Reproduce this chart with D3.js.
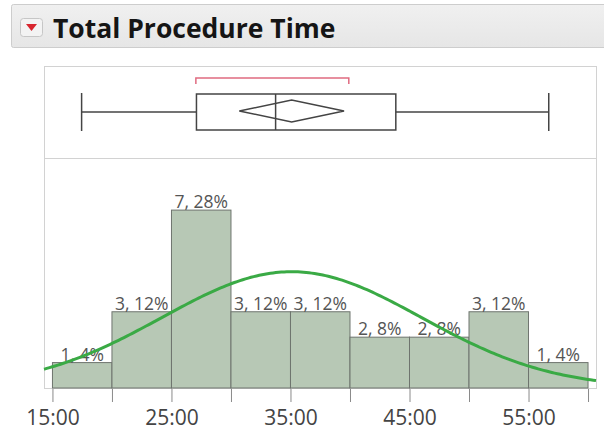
<!DOCTYPE html>
<html>
<head>
<meta charset="utf-8">
<script src="https://cdn.jsdelivr.net/npm/d3@7"></script>
<style>
html,body{margin:0;padding:0;background:#fff;}
svg{display:block;}
</style>
</head>
<body>
<svg id="chart" width="604" height="441"></svg>
<script>
// ---- data (minutes) ----
const title = "Total Procedure Time";
const binStarts = [15, 20, 25, 30, 35, 40, 45, 50, 55];
const binWidth = 5;
const counts = [1, 3, 7, 3, 3, 2, 2, 3, 1];
const percents = [4, 12, 28, 12, 12, 8, 8, 12, 4];
const tickValues = [15, 20, 25, 30, 35, 40, 45, 50, 55, 60];
const labeledTicks = [15, 25, 35, 45, 55];
// box plot summary
const whiskerLow = 17.45, q1 = 27.1, median = 33.75, q3 = 43.85, whiskerHigh = 56.7;
const mean = 35.1, meanCILow = 30.7, meanCIHigh = 39.5;
const shortestHalf = [27.05, 39.9];
// normal fit
const normMean = 35.1, normSD = 10.9;

const svg = d3.select("#chart");

// ---- header ----
const grad = svg.append("defs").append("linearGradient").attr("id","hdr").attr("x1",0).attr("x2",0).attr("y1",0).attr("y2",1);
grad.append("stop").attr("offset","0%").attr("stop-color","#f0f0f0");
grad.append("stop").attr("offset","100%").attr("stop-color","#e6e6e6");
svg.append("rect").attr("x",11.5).attr("y",4.5).attr("width",600).attr("height",43)
  .attr("rx",2).attr("fill","url(#hdr)").attr("stroke","#cdcdcd");
svg.append("rect").attr("x",20.5).attr("y",18.5).attr("width",22).attr("height",18)
  .attr("rx",3).attr("fill","#f3f3f3").attr("stroke","#c6c6c6");
svg.append("path").attr("d","M26,24 L37,24 L31.5,31 Z").attr("fill","#d8262f");
svg.append("text").attr("x",53).attr("y",38).text(title)
  .attr("font-family","'Open Sans', sans-serif").attr("font-weight","bold")
  .attr("font-size",26.5).attr("fill","#151515");

// ---- scales ----
const pLeft = 44, pRight = 596, pTop = 66, pDivider = 158, pBottom = 388;
const x = d3.scaleLinear().domain([14.29, 60.67]).range([pLeft, pRight]);
const y = d3.scaleLinear().domain([0, 9.05]).range([pBottom, pDivider]);

// ---- frame ----
svg.append("rect").attr("x",pLeft+0.5).attr("y",pTop+0.5).attr("width",pRight-pLeft).attr("height",pBottom-pTop)
  .attr("fill","#fff").attr("stroke","#d2d2d2");
svg.append("line").attr("x1",pLeft).attr("x2",pRight).attr("y1",pDivider+0.5).attr("y2",pDivider+0.5)
  .attr("stroke","#d2d2d2");

// ---- box plot ----
const bp = svg.append("g").attr("stroke","#444").attr("stroke-width",1.5).attr("fill","none");
const wy = 112;
bp.append("line").attr("x1",x(whiskerLow)).attr("x2",x(q1)).attr("y1",wy).attr("y2",wy);
bp.append("line").attr("x1",x(q3)).attr("x2",x(whiskerHigh)).attr("y1",wy).attr("y2",wy);
bp.append("line").attr("x1",x(whiskerLow)).attr("x2",x(whiskerLow)).attr("y1",93).attr("y2",131);
bp.append("line").attr("x1",x(whiskerHigh)).attr("x2",x(whiskerHigh)).attr("y1",93).attr("y2",131);
bp.append("rect").attr("x",x(q1)).attr("y",94).attr("width",x(q3)-x(q1)).attr("height",36);
bp.append("line").attr("x1",x(median)).attr("x2",x(median)).attr("y1",94).attr("y2",130);
bp.append("path").attr("d",`M${x(meanCILow)},111 L${x(mean)},100 L${x(meanCIHigh)},111 L${x(mean)},122 Z`);
svg.append("path").attr("d",`M${x(shortestHalf[0])},84 L${x(shortestHalf[0])},78 L${x(shortestHalf[1])},78 L${x(shortestHalf[1])},84`)
  .attr("fill","none").attr("stroke","#e06b80").attr("stroke-width",1.5);

// ---- histogram ----
const hist = svg.append("g");
hist.selectAll("rect").data(binStarts).join("rect")
  .attr("x",d=>x(d)).attr("width",d=>x(d+binWidth)-x(d))
  .attr("y",(d,i)=>y(counts[i])).attr("height",(d,i)=>y(0)-y(counts[i]))
  .attr("fill","#b7c8b5").attr("stroke","#6e746e").attr("stroke-width",1);
hist.selectAll("text").data(binStarts).join("text")
  .attr("x",d=>x(d+binWidth/2)).attr("y",(d,i)=>y(counts[i])-2)
  .attr("text-anchor","middle").attr("font-family","'Open Sans', sans-serif")
  .attr("font-size",17.5).attr("fill","#555")
  .text((d,i)=>`${counts[i]}, ${percents[i]}%`);

// ---- normal curve ----
const curveXs = d3.range(0, 201).map(i => x.domain()[0] + (x.domain()[1]-x.domain()[0]) * i / 200);
const dens = v => counts.reduce((a,b)=>a+b,0) * binWidth * Math.exp(-0.5*((v-normMean)/normSD)**2) / (normSD*Math.sqrt(2*Math.PI));
svg.append("path").datum(curveXs)
  .attr("d", d3.line().x(d=>x(d)).y(d=>y(dens(d))).curve(d3.curveBasis))
  .attr("fill","none").attr("stroke","#3aaa45").attr("stroke-width",3);

// ---- axis ----
const fmt = v => labeledTicks.includes(v) ? `${v}:00` : "";
const ax = svg.append("g").attr("transform",`translate(0,${pBottom+1})`)
  .call(d3.axisBottom(x).tickValues(tickValues).tickFormat(fmt).tickSize(13).tickPadding(8));
ax.select(".domain").remove();
ax.selectAll(".tick line").attr("stroke","#8a8a8a");
ax.selectAll(".tick text").attr("font-family","'Open Sans', sans-serif").attr("font-size",21).attr("fill","#444");
</script>
</body>
</html>
